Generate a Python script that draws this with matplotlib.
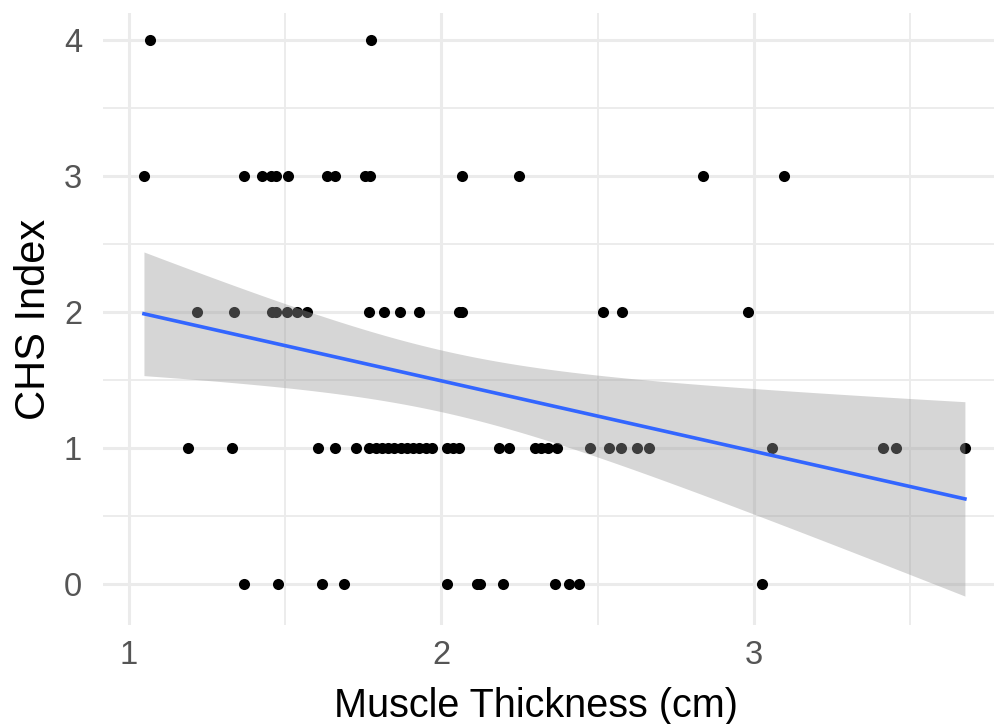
import numpy as np
import matplotlib
matplotlib.use("Agg")
import matplotlib.pyplot as plt

plt.rcParams['font.family'] = ['Liberation Sans', 'DejaVu Sans']

# Muscle thickness (cm) per CHS index level
x_chs0 = [1.368, 1.478, 1.619, 1.688, 2.018, 2.114, 2.125, 2.197, 2.364, 2.407, 2.439, 3.025]
x_chs1 = [1.19, 1.33, 1.606, 1.66, 1.727,
          1.77, 1.79, 1.81, 1.83, 1.85, 1.87, 1.89, 1.91, 1.93, 1.95, 1.97,
          2.018, 2.037, 2.055, 2.183, 2.215, 2.30, 2.32, 2.34, 2.37,
          2.476, 2.535, 2.574, 2.625, 2.665, 3.056, 3.413, 3.453, 3.674]
x_chs2 = [1.219, 1.337, 1.459, 1.47, 1.507, 1.539, 1.569, 1.768, 1.818, 1.867,
          1.928, 2.055, 2.065, 2.517, 2.577, 2.98]
x_chs3 = [1.049, 1.368, 1.427, 1.454, 1.47, 1.509, 1.635, 1.661, 1.757, 1.771,
          2.066, 2.247, 2.836, 3.097]
x_chs4 = [1.067, 1.776]
chs_levels = [0, 1, 2, 3, 4]

x_tick_labels = ["1", "2", "3"]
y_tick_labels = ["0", "1", "2", "3", "4"]

groups = [x_chs0, x_chs1, x_chs2, x_chs3, x_chs4]
xs = np.concatenate([np.array(g, float) for g in groups])
ys = np.concatenate([np.full(len(g), lvl, float) for g, lvl in zip(groups, chs_levels)])

# linear fit + 95% confidence band (like geom_smooth(method="lm"))
n = len(xs)
X = np.column_stack([np.ones(n), xs])
beta, *_ = np.linalg.lstsq(X, ys, rcond=None)
resid = ys - X @ beta
s2 = resid @ resid / (n - 2)
XtXi = np.linalg.inv(X.T @ X)
t_crit = 1.99
xg = np.linspace(xs.min(), xs.max(), 200)
Xg = np.column_stack([np.ones_like(xg), xg])
yg = Xg @ beta
se = np.sqrt(s2 * np.einsum('ij,jk,ik->i', Xg, XtXi, Xg))

fig = plt.figure(figsize=(9.94, 7.24), dpi=100)
ax = fig.add_axes([0.1036, 0.137, 0.8964, 0.845])

grid_c = '#EBEBEB'
for v in [1.5, 2.5, 3.5]:
    ax.axvline(v, color=grid_c, lw=1.3, zorder=0)
for v in [1, 2, 3]:
    ax.axvline(v, color=grid_c, lw=2.2, zorder=0)
for v in [0.5, 1.5, 2.5, 3.5]:
    ax.axhline(v, color=grid_c, lw=1.3, zorder=0)
for v in range(5):
    ax.axhline(v, color=grid_c, lw=2.2, zorder=0)

ax.scatter(xs, ys, s=64, color='black', linewidths=0, zorder=2)
ax.fill_between(xg, yg - t_crit * se, yg + t_crit * se, color='#999999', alpha=0.4,
                linewidth=0, zorder=3)
ax.plot(xg, yg, color='#3366FF', lw=2.6, zorder=4)

ax.set_xlim(0.918, 3.767)
ax.set_ylim(-0.3, 4.2)
ax.set_xticks([1, 2, 3])
ax.set_xticklabels(x_tick_labels)
ax.set_yticks(range(5))
ax.set_yticklabels(y_tick_labels)
ax.tick_params(length=0, labelsize=23.5, labelcolor='#555555')
ax.tick_params(axis='x', pad=11)
ax.tick_params(axis='y', pad=15)
for s in ax.spines.values():
    s.set_visible(False)
ax.set_xlabel('Muscle Thickness (cm)', fontsize=28.5, color='black')
ax.xaxis.set_label_coords(0.486, -0.1504)
ax.xaxis.label.set_va('baseline')
ax.set_ylabel('CHS Index', fontsize=30, color='black', labelpad=7)

fig.savefig('out.png', dpi=100)
